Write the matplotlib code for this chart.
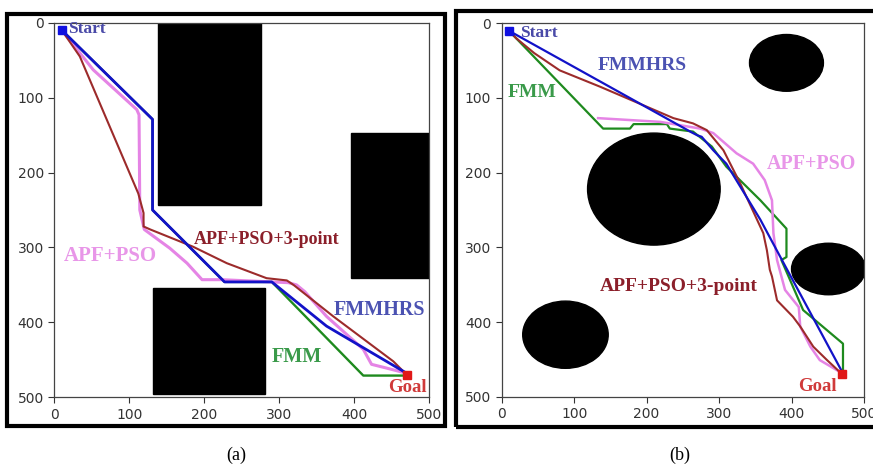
import matplotlib
matplotlib.use("Agg")
from matplotlib import pyplot as plt
from matplotlib.patches import Rectangle, Ellipse

# ---- panel (a): rectangular obstacles (x, y, w, h) ----
rects_a = [(138, 0, 137, 243), (396, 147, 104, 194), (131, 354, 150, 142)]

fmmhrs_a_x = [10, 131, 131, 227, 290, 363, 470]
fmmhrs_a_y = [10, 129, 250, 346, 346, 405, 468]
fmm_a_x = [10, 131, 131, 227, 290, 412, 470]
fmm_a_y = [10, 129, 250, 346, 346, 471, 471]
apf_a_x = [10, 52, 110, 113, 114, 120, 139, 154, 177, 197, 223, 290, 312, 323, 334, 363, 412, 423, 443, 470]
apf_a_y = [10, 63, 116, 123, 250, 276, 290, 301, 321, 343, 343, 346, 347, 350, 359, 392, 436, 456, 461, 468]
apf3_a_x = [10, 34, 112, 119, 119, 128, 185, 230, 283, 310, 319, 372, 452, 459, 470]
apf3_a_y = [10, 45, 228, 254, 272, 276, 299, 321, 341, 344, 350, 392, 452, 459, 470]

# ---- panel (b): elliptical obstacles (cx, cy, w, h) ----
ellipses_b = [(393, 53, 102, 76), (210, 222, 183, 150), (451, 329, 102, 69), (88, 417, 118, 90)]

fmmhrs_b_x = [10, 262, 270, 276, 292, 310, 357, 389, 470]
fmmhrs_b_y = [10, 146, 150, 152, 170, 188, 263, 321, 467]
fmm_b_x = [10, 140, 177, 182, 228, 232, 264, 290, 310, 357, 393, 393, 386, 416, 471, 471]
fmm_b_y = [10, 141, 141, 135, 135, 141, 145, 165, 192, 237, 275, 313, 317, 384, 429, 467]
apf_b_x = [133, 219, 274, 292, 324, 347, 363, 373, 375, 380, 391, 410, 412, 426, 439, 467]
apf_b_y = [127, 132, 141, 147, 174, 188, 210, 237, 281, 317, 357, 380, 406, 433, 451, 467]
apf3_b_x = [10, 20, 45, 80, 136, 237, 264, 283, 306, 329, 361, 366, 370, 373, 380, 402, 412, 430, 449, 470]
apf3_b_y = [10, 20, 40, 63, 85, 127, 134, 143, 170, 214, 281, 304, 330, 339, 371, 393, 406, 433, 451, 470]

start = (10, 10)
goal = (470, 470)
ticks = [0, 100, 200, 300, 400, 500]

C_BLUE = "#1212c8"
C_GREEN = "#1e8a1e"
C_PINK = "#e584e5"
C_RED = "#9c2b2b"

serif = ["Liberation Serif", "DejaVu Serif"]

fig = plt.figure(figsize=(8.73, 4.69), dpi=100)
W, H = 873, 469


def make_axes(left, top, right, bottom):
    ax = fig.add_axes([left / W, 1 - bottom / H, (right - left) / W, (bottom - top) / H])
    ax.set_xlim(0, 500)
    ax.set_ylim(500, 0)
    ax.set_xticks(ticks)
    ax.set_yticks(ticks)
    ax.tick_params(labelsize=10, colors="#333333", length=4, width=0.8)
    for s in ax.spines.values():
        s.set_color("#444444")
        s.set_linewidth(0.9)
    return ax


def label(ax, x, y, text, color, size):
    ax.text(x, y, text, color=color, fontsize=size, fontweight="bold",
            family=serif, ha="left", va="center", zorder=10)


# panel (a)
ax = make_axes(54.3, 22.7, 429.3, 397.3)
for x, y, w, h in rects_a:
    ax.add_patch(Rectangle((x, y), w, h, color="black", zorder=1))
ax.plot(fmm_a_x, fmm_a_y, color=C_GREEN, lw=1.7, zorder=2)
ax.plot(apf_a_x, apf_a_y, color=C_PINK, lw=2.2, zorder=3)
ax.plot(apf3_a_x, apf3_a_y, color=C_RED, lw=1.5, zorder=4)
ax.plot(fmmhrs_a_x, fmmhrs_a_y, color=C_BLUE, lw=2.0, zorder=5)
ax.plot(*start, marker="s", color="#1010e0", ms=6, zorder=6)
ax.plot(*goal, marker="s", color="#e01818", ms=6, zorder=6)
label(ax, 18, 8, "Start", "#4a4aa8", 12.5)
label(ax, 186, 290, "APF+PSO+3-point", "#8b1f2a", 13)
label(ax, 12, 312, "APF+PSO", "#e896e8", 15)
label(ax, 373, 383, "FMMHRS", "#4b52b2", 14.5)
label(ax, 290, 446, "FMM", "#3a9a4a", 14.5)
label(ax, 445, 487, "Goal", "#d03a3a", 13.5)

# panel (b)
ax = make_axes(501.7, 23.3, 864, 396.7)
for cx, cy, w, h in ellipses_b:
    ax.add_patch(Ellipse((cx, cy), w, h, color="black", zorder=1))
ax.plot(fmm_b_x, fmm_b_y, color=C_GREEN, lw=1.6, zorder=2)
ax.plot(apf_b_x, apf_b_y, color=C_PINK, lw=1.8, zorder=3)
ax.plot(apf3_b_x, apf3_b_y, color=C_RED, lw=1.5, zorder=4)
ax.plot(fmmhrs_b_x, fmmhrs_b_y, color=C_BLUE, lw=1.6, zorder=5)
ax.plot(*start, marker="s", color="#1010e0", ms=6, zorder=6)
ax.plot(*goal, marker="s", color="#e01818", ms=6, zorder=6)
label(ax, 25, 13, "Start", "#4a4aa8", 12.5)
label(ax, 133, 56, "FMMHRS", "#4b52b2", 14)
label(ax, 8, 92, "FMM", "#3a9a4a", 14)
label(ax, 366, 189, "APF+PSO", "#e896e8", 14.5)
label(ax, 135, 352, "APF+PSO+3-point", "#8b1f2a", 14)
label(ax, 409, 487, "Goal", "#d03a3a", 13.5)

# thick outer frames
for x0, y0, x1, y1 in [(7, 13.7, 445.3, 426.3), (456.3, 11, 876, 427)]:
    fig.add_artist(Rectangle((x0 / W, 1 - y1 / H), (x1 - x0) / W, (y1 - y0) / H,
                             transform=fig.transFigure, fill=False,
                             edgecolor="black", linewidth=3.0, clip_on=False))

fig.text(236 / W, 1 - 455 / H, "(a)", family=serif, fontsize=13, ha="center", va="center")
fig.text(680 / W, 1 - 455 / H, "(b)", family=serif, fontsize=13, ha="center", va="center")

fig.savefig("out.png", dpi=100)
